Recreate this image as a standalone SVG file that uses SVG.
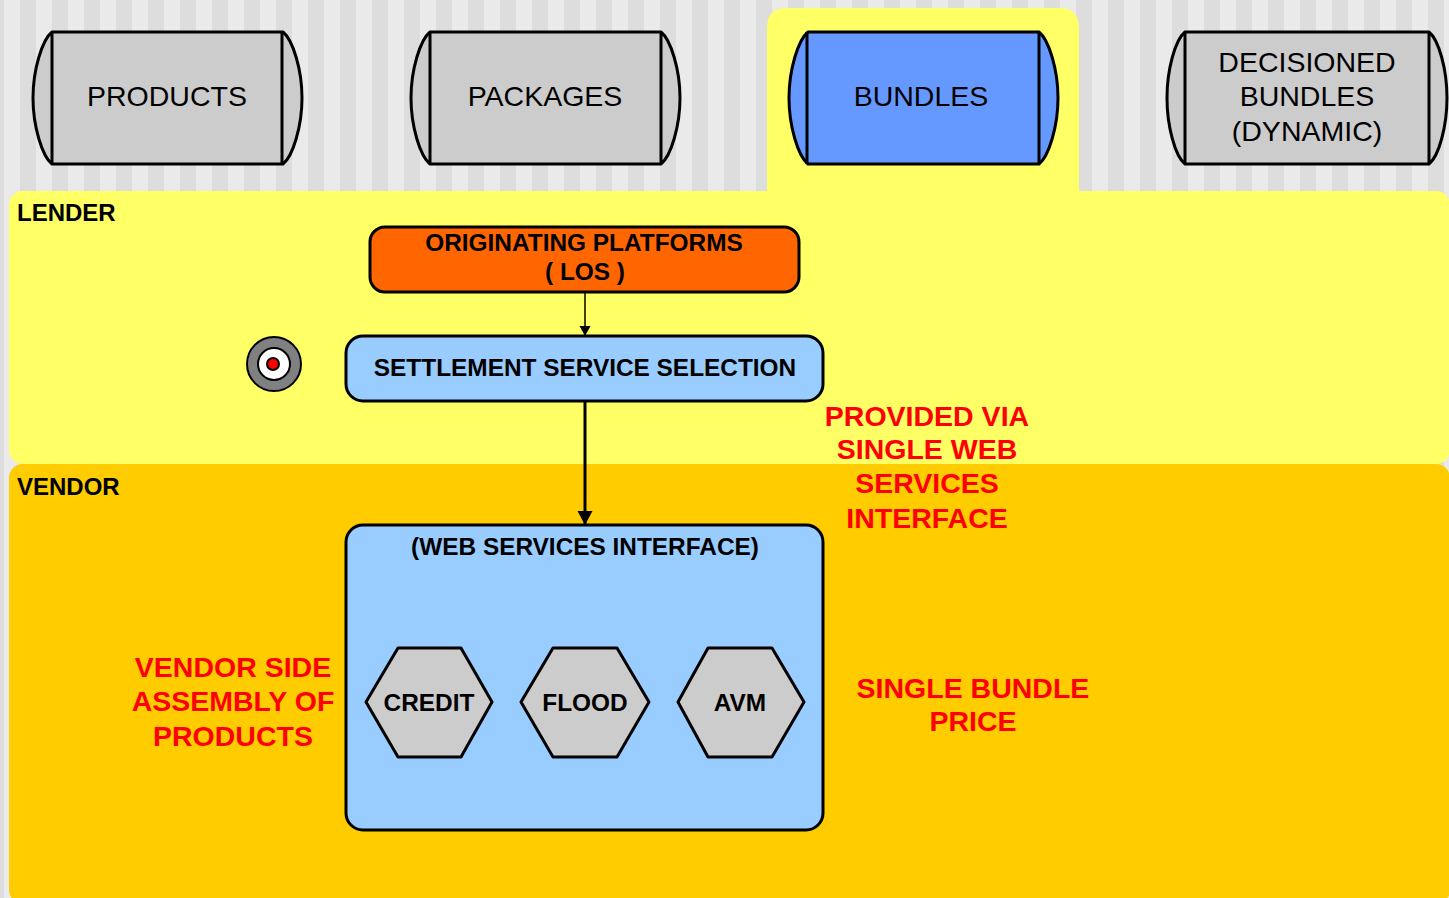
<svg xmlns="http://www.w3.org/2000/svg" width="1449" height="898" viewBox="0 0 1449 898">
<style>
text{font-family:"Liberation Sans",Arial,sans-serif;text-anchor:middle;fill:#000}
.tab{font-size:28.5px}
.b{font-weight:bold;font-size:24.4px}
.lab{text-anchor:start;font-size:24px}
.red{font-weight:bold;font-size:28.5px;fill:#f00}
.s{stroke:#000;stroke-width:3;stroke-linejoin:round}
.g{fill:#ccc}
.bl{fill:#99ccff}
.l{fill:none;stroke:#000;stroke-width:3}
</style>
<defs>
<pattern id="st" x="4" y="0" width="32" height="32" patternUnits="userSpaceOnUse"><rect width="32" height="32" fill="#ddd"/><rect width="16" height="32" fill="#eaeaea"/></pattern>
<marker id="ah" markerUnits="userSpaceOnUse" markerWidth="16" markerHeight="16" refX="14" refY="8" orient="auto"><path d="M0 0.500L14 8L0 15.500Z" fill="#000"/></marker>
<marker id="ahs" markerUnits="userSpaceOnUse" markerWidth="11" markerHeight="12" refX="10" refY="6" orient="auto"><path d="M0 0.500L10 6L0 11.500Z" fill="#000"/></marker>
<path id="tabshape" d="M19 0H250C260 8 269 38 269 66C269 94 260 124 250 132H19C9 124 0 94 0 66C0 38 9 8 19 0Z"/>
<path id="tabwide" d="M18 0H262C272 8 280 38 280 66C280 94 272 124 262 132H18C8 124 0 94 0 66C0 38 8 8 18 0Z"/>
</defs>
<rect width="1449" height="898" fill="url(#st)"/>
<path id="highlight" d="M767 195V28Q767 8 787 8H1059Q1079 8 1079 28V195Z" fill="#ffff66"/>
<rect id="lender-lane" x="9" y="191" width="1441" height="273" rx="14" fill="#ffff66"/>
<rect id="vendor-lane" x="9" y="464" width="1441" height="440" rx="14" fill="#ffcc00"/>
<text class="b lab" x="17" y="221">LENDER</text>
<text class="b lab" x="17" y="495">VENDOR</text>
<g id="connectors">
<line x1="585" y1="292" x2="585" y2="336" stroke="#000" stroke-width="1.5" marker-end="url(#ahs)"/>
<line x1="585" y1="400" x2="585" y2="525" stroke="#000" stroke-width="3" marker-end="url(#ah)"/>
</g>
<g id="products">
<use href="#tabshape" x="33" y="32" class="s g"/><path class="l" d="M52 32V164M282 32V164"/>
<text class="tab" x="167" y="105.500">PRODUCTS</text>
</g>
<g id="packages">
<use href="#tabshape" x="411" y="32" class="s g"/><path class="l" d="M430 32V164M661 32V164"/>
<text class="tab" x="545" y="105.500">PACKAGES</text>
</g>
<g id="bundles">
<use href="#tabshape" x="789" y="32" class="s" fill="#6699ff"/><path class="l" d="M807 32V164M1039 32V164"/>
<text class="tab" x="921" y="105.500">BUNDLES</text>
</g>
<g id="decisioned">
<use href="#tabwide" x="1167" y="32" class="s g"/><path class="l" d="M1185 32V164M1429 32V164"/>
<text class="tab" x="1307" y="71.500">DECISIONED</text>
<text class="tab" x="1307" y="105.500">BUNDLES</text>
<text class="tab" x="1307" y="140.500">(DYNAMIC)</text>
</g>
<g id="originating">
<rect x="370" y="227" width="429" height="65" rx="15" class="s" fill="#ff6600"/>
<text class="b" x="584" y="251">ORIGINATING PLATFORMS</text>
<text class="b" x="585" y="280">( LOS )</text>
</g>
<g id="settlement">
<rect x="346" y="336" width="477" height="65" rx="17" class="s bl"/>
<text class="b" x="585" y="376">SETTLEMENT SERVICE SELECTION</text>
</g>
<g id="target">
<circle cx="274" cy="364" r="27" fill="#808080" stroke="#000" stroke-width="2"/>
<circle cx="274" cy="364" r="16" fill="#fff" stroke="#000" stroke-width="2"/>
<circle cx="273" cy="364" r="6" fill="#f00" stroke="#000" stroke-width="2"/>
</g>
<g id="web-services">
<rect x="346" y="525" width="477" height="305" rx="17" class="s bl"/>
<text class="b" x="585" y="555">(WEB SERVICES INTERFACE)</text>
</g>
<g id="credit">
<path class="s g" d="M398 648H461L492 702L461 757H398L366 702Z"/>
<text class="b" x="429" y="711">CREDIT</text>
</g>
<g id="flood">
<path class="s g" d="M553 648H617L649 702L617 757H553L521 702Z"/>
<text class="b" x="585" y="711">FLOOD</text>
</g>
<g id="avm">
<path class="s g" d="M708 648H772L804 702L772 757H708L678 702Z"/>
<text class="b" x="740" y="711">AVM</text>
</g>
<g id="notes">
<text class="red" x="927" y="425.500">PROVIDED VIA</text>
<text class="red" x="927" y="458.500">SINGLE WEB</text>
<text class="red" x="927" y="492.500">SERVICES</text>
<text class="red" x="927" y="527.500">INTERFACE</text>
<text class="red" x="233" y="676.500">VENDOR SIDE</text>
<text class="red" x="233" y="710.500">ASSEMBLY OF</text>
<text class="red" x="233" y="745.500">PRODUCTS</text>
<text class="red" x="973" y="697.500">SINGLE BUNDLE</text>
<text class="red" x="973" y="730.500">PRICE</text>
</g>
</svg>
